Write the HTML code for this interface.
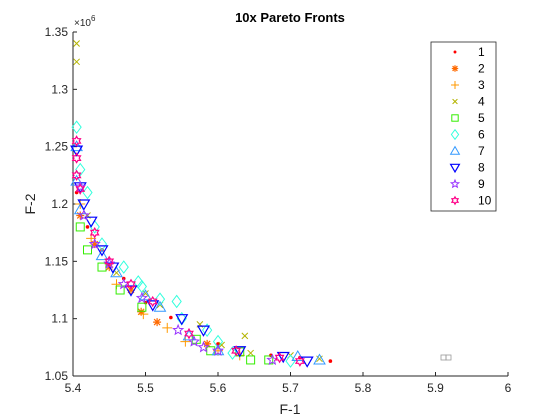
<!DOCTYPE html>
<html><head><meta charset="utf-8"><style>
html,body{margin:0;padding:0;background:#fff;}
svg{display:block;font-family:"Liberation Sans",sans-serif;}
</style></head><body>
<svg id="chart" width="560" height="420" viewBox="0 0 560 420">
<rect width="560" height="420" fill="#fff"/>
<text x="290" y="22" text-anchor="middle" font-size="13" font-weight="bold" fill="#000">10x Pareto Fronts</text>
<text x="290" y="414" text-anchor="middle" font-size="14" fill="#262626">F-1</text>
<text x="35" y="204" text-anchor="middle" font-size="14" fill="#262626" transform="rotate(-90 35 204)">F-2</text>
<text x="74" y="26" font-size="10" fill="#262626">×10<tspan dy="-5" font-size="8">6</tspan></text>
<g id="axes"></g>
<g id="marks"></g>
<g><rect x="441" y="355" width="5" height="5" fill="none" stroke="#999" stroke-width="0.8"/><rect x="446" y="355" width="5" height="5" fill="none" stroke="#999" stroke-width="0.8"/></g>
<g id="legend"></g>
</svg>
<script>
const xTicks=[5.4,5.5,5.6,5.7,5.8,5.9,6];
const xTickLabels=["5.4","5.5","5.6","5.7","5.8","5.9","6"];
const yTicks=[1.05,1.1,1.15,1.2,1.25,1.3,1.35];
const yTickLabels=["1.05","1.1","1.15","1.2","1.25","1.3","1.35"];
const seriesNames=["1","2","3","4","5","6","7","8","9","10"];
const s1x=[5.405,5.42,5.44,5.47,5.5,5.535,5.6,5.673,5.713,5.755];
const s1y=[1.21,1.18,1.16,1.135,1.114,1.101,1.078,1.068,1.066,1.063];
const s2x=[5.41,5.43,5.45,5.48,5.494,5.516,5.585];
const s2y=[1.19,1.165,1.145,1.125,1.106,1.097,1.078];
const s3x=[5.41,5.425,5.46,5.497,5.53,5.555,5.6,5.63];
const s3y=[1.2,1.17,1.13,1.104,1.092,1.08,1.072,1.068];
const s4x=[5.405,5.405,5.42,5.46,5.5,5.52,5.575,5.605,5.637,5.645,5.7,5.74];
const s4y=[1.34,1.324,1.19,1.14,1.122,1.112,1.095,1.077,1.085,1.07,1.068,1.065];
const s5x=[5.41,5.42,5.44,5.465,5.495,5.57,5.59,5.63,5.645,5.67];
const s5y=[1.18,1.16,1.145,1.125,1.11,1.082,1.072,1.071,1.064,1.064];
const s6x=[5.405,5.41,5.42,5.43,5.44,5.47,5.49,5.495,5.52,5.543,5.55,5.585,5.6,5.62,5.7];
const s6y=[1.267,1.23,1.21,1.18,1.165,1.145,1.132,1.128,1.117,1.115,1.1,1.09,1.08,1.07,1.063];
const s7x=[5.405,5.405,5.41,5.44,5.46,5.5,5.52,5.56,5.6,5.71,5.74];
const s7y=[1.25,1.22,1.195,1.155,1.14,1.12,1.11,1.085,1.072,1.067,1.064];
const s8x=[5.405,5.41,5.415,5.425,5.44,5.455,5.48,5.51,5.55,5.58,5.63,5.69,5.723];
const s8y=[1.247,1.215,1.2,1.185,1.16,1.145,1.125,1.112,1.1,1.09,1.072,1.067,1.063];
const s9x=[5.41,5.415,5.43,5.45,5.47,5.495,5.545,5.567,5.58,5.6,5.675];
const s9y=[1.215,1.19,1.165,1.148,1.13,1.118,1.09,1.08,1.075,1.072,1.064];
const s10x=[5.405,5.405,5.405,5.41,5.43,5.45,5.48,5.51,5.56,5.625,5.685,5.713];
const s10y=[1.255,1.24,1.225,1.213,1.175,1.15,1.13,1.115,1.087,1.072,1.066,1.063];

const X=v=>73+(v-5.4)/0.6*435;
const Y=v=>376-(v-1.05)/0.3*344;
const NS="http://www.w3.org/2000/svg";
function mk(tag,attrs,parent){const e=document.createElementNS(NS,tag);for(const k in attrs)e.setAttribute(k,attrs[k]);parent.appendChild(e);return e;}
const axes=document.getElementById('axes');
let xl=mk('line',{x1:73,y1:376,x2:508,y2:376,stroke:'#262626','stroke-width':1},axes);


let yl=mk('line',{x1:73,y1:32,x2:73,y2:376,stroke:'#262626','stroke-width':1},axes);


xTicks.forEach((t,i)=>{const x=X(t);
 mk('line',{x1:x,y1:376,x2:x,y2:372,stroke:'#262626'},axes);
 const tx=mk('text',{x:x,y:392,'text-anchor':'middle','font-size':12,fill:'#262626'},axes);tx.textContent=xTickLabels[i];
 
 });
yTicks.forEach((t,i)=>{const y=Y(t);
 mk('line',{x1:73,y1:y,x2:77,y2:y,stroke:'#262626'},axes);
 const tx=mk('text',{x:68,y:y+4,'text-anchor':'end','font-size':12,fill:'#262626'},axes);tx.textContent=yTickLabels[i];
 
 });

const colors=['#ff0000','#ff6a00','#ff9900','#b3b300','#33ee00','#33ffdd','#3399ff','#0000ff','#9933ff','#ff0088'];
const xs=[s1x,s2x,s3x,s4x,s5x,s6x,s7x,s8x,s9x,s10x];
const ys=[s1y,s2y,s3y,s4y,s5y,s6y,s7y,s8y,s9y,s10y];
function star(cx,cy,n,ro,ri){let p=[];for(let i=0;i<2*n;i++){const r=i%2?ri:ro;const a=-Math.PI/2+i*Math.PI/n;p.push((cx+r*Math.cos(a)).toFixed(1)+','+(cy+r*Math.sin(a)).toFixed(1));}return p.join(' ');}
function marker(k,x,y,g,s){const c=colors[k];let e;
 switch(k){
 case 0:e=mk('circle',{cx:x,cy:y,r:1.8*s,fill:c},g);break;
 case 1:e=mk('path',{d:`M${x-4*s},${y}H${x+4*s}M${x},${y-4*s}V${y+4*s}M${x-3*s},${y-3*s}L${x+3*s},${y+3*s}M${x-3*s},${y+3*s}L${x+3*s},${y-3*s}`,stroke:c,'stroke-width':1.2,fill:'none'},g);break;
 case 2:e=mk('path',{d:`M${x-5*s},${y}H${x+5*s}M${x},${y-5*s}V${y+5*s}`,stroke:c,'stroke-width':1,fill:'none'},g);break;
 case 3:e=mk('path',{d:`M${x-3*s},${y-3*s}L${x+3*s},${y+3*s}M${x-3*s},${y+3*s}L${x+3*s},${y-3*s}`,stroke:c,'stroke-width':1,fill:'none'},g);break;
 case 4:e=mk('rect',{x:x-4*s,y:y-4*s,width:8*s,height:8*s,stroke:c,'stroke-width':1,fill:'none'},g);break;
 case 5:e=mk('polygon',{points:`${x},${y-6*s} ${x+4.5*s},${y} ${x},${y+6*s} ${x-4.5*s},${y}`,stroke:c,'stroke-width':1,fill:'none'},g);break;
 case 6:e=mk('polygon',{points:`${x},${y-5.5*s} ${x+5.5*s},${y+4*s} ${x-5.5*s},${y+4*s}`,stroke:c,'stroke-width':1,fill:'none'},g);break;
 case 7:e=mk('polygon',{points:`${x},${y+5.5*s} ${x+5.5*s},${y-4*s} ${x-5.5*s},${y-4*s}`,stroke:c,'stroke-width':1.2,fill:'none'},g);break;
 case 8:e=mk('polygon',{points:star(x,y,5,5*s,2.2*s),stroke:c,'stroke-width':1,fill:'none'},g);break;
 case 9:e=mk('polygon',{points:star(x,y,6,4.5*s,2.6*s),stroke:c,'stroke-width':1.2,fill:'none'},g);break;}
 return e;}
const marks=document.getElementById('marks');
xs.forEach((arr,k)=>{const g=mk('g',{},marks);
 
 
 arr.forEach((v,i)=>{const m=marker(k,X(v),Y(ys[k][i]),g,1);
  
  });});
const leg=document.getElementById('legend');
const lb=mk('rect',{x:431,y:42,width:65,height:169,fill:'#fff',stroke:'#262626','stroke-width':0.8},leg);


seriesNames.forEach((n,k)=>{const y=52+k*16.5;const g=mk('g',{},leg);
 
 
 marker(k,455,y,g,0.8);
 const t=mk('text',{x:478,y:y+4,'font-size':12,fill:'#000'},g);t.textContent=n;});
</script>
</body></html>
